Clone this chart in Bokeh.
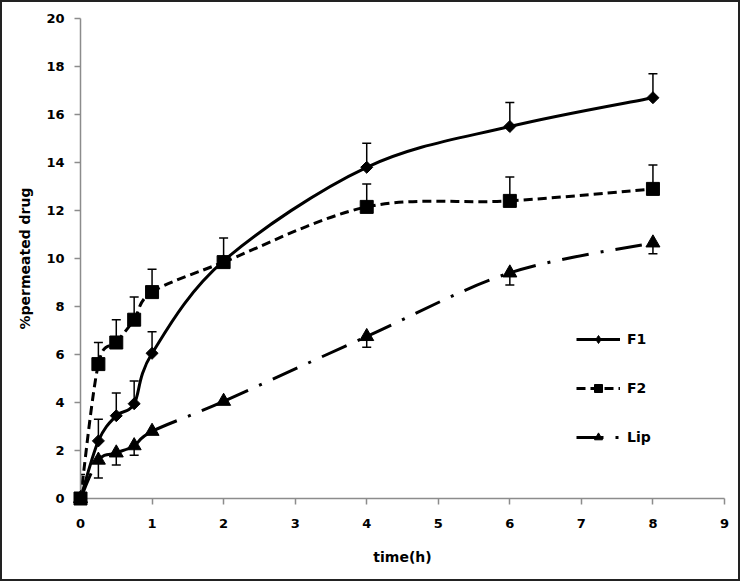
import numpy as np
from bokeh.plotting import figure
from bokeh.models import (ColumnDataSource, Whisker, TeeHead, Legend, LegendItem,
                          Range1d, FixedTicker)
from bokeh.embed import file_html
from bokeh.resources import INLINE

# ---- data ----
time_h = [0, 0.25, 0.5, 0.75, 1, 2, 4, 6, 8]
f1 = [0.0, 2.4, 3.45, 3.95, 6.05, 9.9, 13.8, 15.5, 16.7]
f1_err = [1.0, 0.9, 0.95, 0.95, 0.9, 0.95, 1.0, 1.0, 1.0]
f2 = [0.0, 5.6, 6.5, 7.45, 8.6, 9.85, 12.15, 12.4, 12.9]
f2_err = [0.0, 0.9, 0.95, 0.95, 0.95, 0.0, 0.95, 1.0, 1.0]
lip = [0.0, 1.6, 1.9, 2.2, 2.8, 4.05, 6.75, 9.4, 10.65]
lip_err = [0.0, 0.75, 0.5, 0.4, 0.0, 0.0, 0.45, 0.5, 0.45]
x_ticks = [0, 1, 2, 3, 4, 5, 6, 7, 8, 9]
y_ticks = [0, 2, 4, 6, 8, 10, 12, 14, 16, 18, 20]

FONT = "DejaVu Sans"

p = figure(width=740, height=581, output_backend="svg", toolbar_location=None,
           x_range=Range1d(0, 9), y_range=Range1d(0, 20),
           min_border_left=78, min_border_right=18, min_border_top=16,
           min_border_bottom=85)
p.styles = {"border": "2px solid #222"}
p.outline_line_color = None
p.grid.visible = False
p.background_fill_color = "white"

for ax in (p.xaxis[0], p.yaxis[0]):
    ax.axis_line_color = "#8c8c8c"
    ax.axis_line_width = 1.5
    ax.major_tick_line_color = "#8c8c8c"
    ax.major_tick_line_width = 1.5
    ax.major_tick_out = 6
    ax.major_tick_in = 0
    ax.minor_tick_line_color = None
    ax.major_label_text_font = FONT
    ax.major_label_text_font_style = "bold"
    ax.major_label_text_font_size = "13px"
    ax.major_label_text_color = "black"
    ax.axis_label_text_font = FONT
    ax.axis_label_text_font_style = "bold"
    ax.axis_label_text_font_size = "14px"
    ax.axis_label_text_color = "black"

p.xaxis.ticker = FixedTicker(ticks=x_ticks)
p.yaxis.ticker = FixedTicker(ticks=y_ticks)
p.xaxis.axis_label = "time(h)"
p.yaxis.axis_label = "%permeated drug"
p.xaxis.major_label_standoff = 14
p.yaxis.major_label_standoff = 10
p.xaxis.axis_label_standoff = 18
p.yaxis.axis_label_standoff = 10


def bezier_source(xs, ys):
    pts = np.column_stack([xs, ys]).astype(float)
    n = len(pts)
    d = dict(x0=[], y0=[], x1=[], y1=[], cx0=[], cy0=[], cx1=[], cy1=[])
    for i in range(n - 1):
        p0 = pts[i - 1] if i > 0 else pts[i]
        p1 = pts[i]
        p2 = pts[i + 1]
        p3 = pts[i + 2] if i + 2 < n else pts[i + 1]
        c1 = p1 + (p2 - p0) / 6.0
        c2 = p2 - (p3 - p1) / 6.0
        d["x0"].append(p1[0]); d["y0"].append(p1[1])
        d["x1"].append(p2[0]); d["y1"].append(p2[1])
        d["cx0"].append(c1[0]); d["cy0"].append(c1[1])
        d["cx1"].append(c2[0]); d["cy1"].append(c2[1])
    return ColumnDataSource(d)


# name, values, errors, dash, plot marker, size, angle, legend marker, legend size, up
series = [
    ("F1", f1, f1_err, "solid", "square", 8.5, np.pi / 4, "diamond", 12, True),
    ("F2", f2, f2_err, "9 5", "square", 13, 0.0, None, None, True),
    ("Lip", lip, lip_err, "27 12 3 12", "triangle", 14, 0.0, None, None, False),
]

items = []
for name, ys, errs, dash, marker, size, angle, lmarker, lsize, up in series:
    src = bezier_source(time_h, ys)
    r_line = p.bezier(x0="x0", y0="y0", x1="x1", y1="y1", cx0="cx0", cy0="cy0",
                      cx1="cx1", cy1="cy1", source=src, line_color="black",
                      line_width=3, line_dash=dash)
    xs_e = [x for x, e in zip(time_h, errs) if e > 0]
    ys_e = [y for y, e in zip(ys, errs) if e > 0]
    es = [e for e in errs if e > 0]
    if up:
        esrc = ColumnDataSource(dict(base=xs_e, lower=ys_e,
                                     upper=[y + e for y, e in zip(ys_e, es)]))
        w = Whisker(source=esrc, base="base", lower="lower", upper="upper",
                    line_color="black", line_width=1.5, lower_head=None,
                    upper_head=TeeHead(size=9, line_color="black", line_width=1.5))
    else:
        esrc = ColumnDataSource(dict(base=xs_e, upper=ys_e,
                                     lower=[y - e for y, e in zip(ys_e, es)]))
        w = Whisker(source=esrc, base="base", lower="lower", upper="upper",
                    line_color="black", line_width=1.5, upper_head=None,
                    lower_head=TeeHead(size=9, line_color="black", line_width=1.5))
    p.add_layout(w)
    r_mark = p.scatter(x=time_h, y=ys, marker=marker, size=size, angle=angle,
                       fill_color="black", line_color="black", level="overlay")
    if lmarker is not None:
        # legend-only proxy (not drawn in the plot area)
        r_leg = p.scatter(x=[np.nan], y=[np.nan], marker=lmarker, size=lsize,
                          fill_color="black", line_color="black")
        items.append(LegendItem(label=name, renderers=[r_line, r_leg]))
    else:
        items.append(LegendItem(label=name, renderers=[r_line, r_mark]))

legend = Legend(items=items, location=(496, 51), padding=0, margin=0,
                spacing=29, glyph_width=44, glyph_height=20, label_standoff=7,
                label_text_font=FONT, label_text_font_style="bold",
                label_text_font_size="14px", label_text_color="black",
                border_line_color=None, background_fill_alpha=0)
p.add_layout(legend)

open("out.html", "w").write(file_html(p, INLINE))
